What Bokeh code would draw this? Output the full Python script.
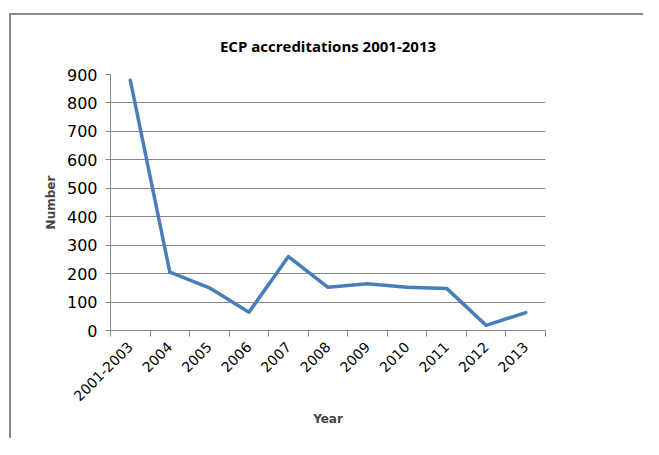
import math
from bokeh.plotting import figure
from bokeh.models import FixedTicker, Range1d, ColumnDataSource
from bokeh.embed import file_html
from bokeh.resources import INLINE

categories = ["2001-2003", "2004", "2005", "2006", "2007", "2008",
              "2009", "2010", "2011", "2012", "2013"]
values = [880, 205, 150, 64, 260, 152, 164, 152, 148, 18, 63]
y_ticks = [0, 100, 200, 300, 400, 500, 600, 700, 800, 900]

FONT = "DejaVu Sans"
GRAY = "#868686"

xs = [i + 0.5 for i in range(len(categories))]
src = ColumnDataSource(data=dict(x=xs, y=values))

p = figure(frame_width=435, frame_height=256, output_backend="svg", toolbar_location=None,
           x_range=Range1d(0, len(categories)), y_range=Range1d(0, 900),
           title="ECP accreditations 2001-2013")
p.min_border_left = 99
p.min_border_right = 98
p.min_border_top = 59
p.min_border_bottom = 108
p.outline_line_color = None
p.background_fill_color = "white"
p.border_fill_color = "white"
p.margin = (13, 0, 0, 9)
p.styles = {"border-left": "2px solid #868686", "border-top": "2px solid #868686"}

p.title.align = "center"
p.title.text_font = "Open Sans"
p.title.text_font_size = "15px"
p.title.text_font_style = "bold"
p.title.text_color = "black"
p.title.standoff = 37

p.line("x", "y", source=src, line_color="#4a7ebb", line_width=3.5,
       line_join="round", line_cap="round")

# y axis
p.yaxis.ticker = FixedTicker(ticks=y_ticks)
p.yaxis.major_label_text_font = FONT
p.yaxis.major_label_text_font_size = "16px"
p.yaxis.major_label_text_color = "black"
p.yaxis.axis_line_color = GRAY
p.yaxis.major_tick_line_color = GRAY
p.yaxis.major_tick_out = 5
p.yaxis.major_tick_in = 0
p.yaxis.minor_tick_line_color = None
p.yaxis.major_label_standoff = 8
p.yaxis.axis_label = "Number"
p.yaxis.axis_label_text_font = FONT
p.yaxis.axis_label_text_font_size = "12px"
p.yaxis.axis_label_text_font_style = "bold"
p.yaxis.axis_label_standoff = 6

# x axis: labels at category centres, tick marks at boundaries
p.xaxis.ticker = FixedTicker(ticks=xs, minor_ticks=list(range(len(categories) + 1)))
p.xaxis.major_label_overrides = {x: c for x, c in zip(xs, categories)}
p.xaxis.major_label_orientation = math.pi / 4
p.xaxis.major_label_text_font = FONT
p.xaxis.major_label_text_font_size = "14px"
p.xaxis.major_label_text_color = "black"
p.xaxis.major_label_standoff = 8
p.xaxis.major_tick_line_color = None
p.xaxis.minor_tick_line_color = GRAY
p.xaxis.minor_tick_out = 6
p.xaxis.minor_tick_in = 0
p.xaxis.axis_line_color = GRAY
p.xaxis.axis_label = "Year"
p.xaxis.axis_label_text_font = FONT
p.xaxis.axis_label_text_font_size = "12px"
p.xaxis.axis_label_text_font_style = "bold"
p.xaxis.axis_label_standoff = 3

p.xgrid.grid_line_color = None
p.ygrid.ticker = FixedTicker(ticks=y_ticks)
p.ygrid.grid_line_color = GRAY
p.ygrid.grid_line_width = 1

open("out.html", "w").write(file_html(p, INLINE))
